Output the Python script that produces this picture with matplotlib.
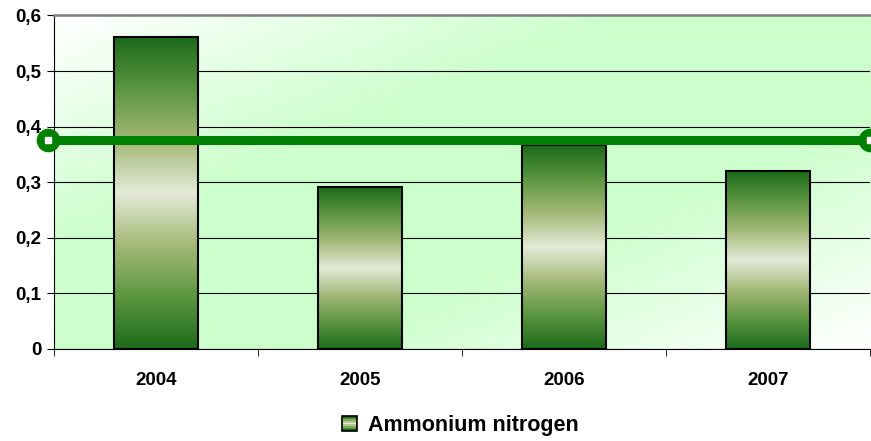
import numpy as np
import matplotlib.pyplot as plt
from matplotlib.colors import LinearSegmentedColormap
from matplotlib.patches import Rectangle
from matplotlib.legend_handler import HandlerBase

plt.rcParams['font.family'] = ['Liberation Sans', 'DejaVu Sans']

# data
years = ['2004', '2005', '2006', '2007']
ammonium = [0.561, 0.291, 0.367, 0.320]
limit_value = 0.376
y_ticks = [0, 0.1, 0.2, 0.3, 0.4, 0.5, 0.6]
y_tick_labels = ['0', '0,1', '0,2', '0,3', '0,4', '0,5', '0,6']

bar_cmap = LinearSegmentedColormap.from_list(
    'bar', ['#1c6a1c', '#5c9640', '#a4b978', '#e4ead8', '#a4b978', '#5c9640', '#1c6a1c'])
bg_cmap = LinearSegmentedColormap.from_list(
    'bg', [(0, '#ccffcc'), (0.3, '#ccffcc'), (1, '#ffffff')])


class GradientHandler(HandlerBase):
    def create_artists(self, legend, orig_handle, xdescent, ydescent,
                       width, height, fontsize, trans):
        size = height * 1.0
        x0 = xdescent + width - size
        y0 = -ydescent + (height - size) / 2
        n = 9
        arts = []
        for i in range(n):
            c = bar_cmap(i / (n - 1))
            arts.append(Rectangle((x0, y0 + i * size / n), size, size / n + 0.3,
                                  facecolor=c, edgecolor='none', transform=trans))
        arts.append(Rectangle((x0, y0), size, size, facecolor='none',
                              edgecolor='black', lw=1.2, transform=trans))
        return arts


fig = plt.figure(figsize=(8.71, 4.41), dpi=100)
ax = fig.add_axes([0.062, 0.209, 0.937, 0.756])

x = np.arange(len(years))
ax.set_xlim(-0.5, len(years) - 0.5)
ax.set_ylim(0, 0.6)

# background: green along the rising diagonal, white towards top-left / bottom-right
gx, gy = np.meshgrid(np.linspace(0, 1, 300), np.linspace(0, 1, 150))
ax.imshow(np.abs(gx - gy), extent=[-0.5, len(years) - 0.5, 0, 0.6], origin='lower',
          aspect='auto', cmap=bg_cmap, vmin=0, vmax=1, zorder=0)

ax.set_yticks(y_ticks)
ax.set_yticklabels(y_tick_labels)
ax.yaxis.grid(True, color='black', lw=0.8, zorder=1)
ax.set_axisbelow(True)

bars = ax.bar(x, ammonium, width=0.41, facecolor='none', edgecolor='black',
              lw=1.5, zorder=3, label='Ammonium nitrogen')
grad = np.linspace(0, 1, 256).reshape(-1, 1)
for b in bars:
    im = ax.imshow(grad, extent=[b.get_x(), b.get_x() + b.get_width(), 0, b.get_height()],
                   origin='lower', aspect='auto', cmap=bar_cmap, zorder=2)
    im.set_clip_path(b)

xl = ax.get_xlim()
ax.plot([xl[0] - 0.03, xl[1]], [limit_value] * 2, color='#008000', lw=6.5,
        zorder=4, clip_on=False, solid_capstyle='butt')
ax.plot([xl[0] - 0.03, xl[1]], [limit_value] * 2, ls='none', marker='o', ms=16,
        color='#008000', zorder=5, clip_on=False)
ax.plot([xl[0] - 0.03, xl[1]], [limit_value] * 2, ls='none', marker='s', ms=4.5,
        color='white', zorder=6, clip_on=False)

ax.set_xticks(x)
ax.set_xticklabels(years)
ax.set_xticks(np.arange(len(years) + 1) - 0.5, minor=True)
ax.tick_params(axis='x', which='major', length=0, pad=17)
ax.tick_params(axis='x', which='minor', length=5, direction='out')
ax.tick_params(axis='y', length=5, direction='out', pad=4)
for lab in ax.get_xticklabels() + ax.get_yticklabels():
    lab.set_fontweight('bold')
    lab.set_fontsize(13.5)

ax.spines['right'].set_visible(False)
ax.spines['top'].set_color('#808080')
ax.spines['top'].set_linewidth(1.8)
ax.spines['left'].set_color('black')
ax.spines['bottom'].set_color('black')

fig.legend(handles=[bars], labels=['Ammonium nitrogen'], loc='center',
           bbox_to_anchor=(0.528, 0.035), frameon=False,
           handler_map={type(bars): GradientHandler()},
           prop={'weight': 'bold', 'size': 15.5}, handlelength=0.75, handletextpad=0.5)

fig.savefig('out.png', dpi=100)
